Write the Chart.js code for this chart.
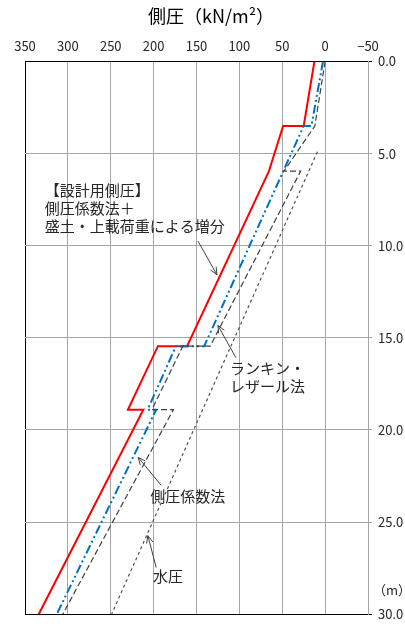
<!DOCTYPE html>
<html>
<head>
<meta charset="utf-8">
<script src="https://cdn.jsdelivr.net/npm/chart.js@4/dist/chart.umd.min.js"></script>
<style>
  html, body { margin: 0; padding: 0; background: #fff; }
  #c { display: block; }
</style>
</head>
<body>
<canvas id="c" width="405" height="628"></canvas>
<script>
// Lateral pressure (kN/m²) against depth (m) for each method
const designDepth     = [0, 3.5, 3.5, 5.95, 15.45, 15.45, 18.9, 18.9, 30];
const designPressure  = [12.5, 25, 49, 65.5, 161, 195, 230, 212, 334];

const rankineDepth    = [0, 3.5, 3.5, 15.45, 15.45, 18.9, 18.9, 30];
const rankinePressure = [2.5, 16, 25, 141, 174, 207, 197, 313];

const coefDepth       = [0, 3.5, 5.95, 5.95, 15.45, 15.45, 18.9, 18.9, 30];
const coefPressure    = [0, 12, 48, 28.5, 134, 166, 202, 177, 306];

const waterDepth      = [4.9, 30];
const waterPressure   = [9, 249];

// axis ticks
const pressureTicks = [350, 300, 250, 200, 150, 100, 50, 0, -50];
const depthTicks    = [0, 5, 10, 15, 20, 25, 30];

const FONT = '"Noto Sans CJK JP", "Noto Sans", sans-serif';
const TEXT = '#262626';
const GRID = '#a6a6a6';

function toPoints(depths, values) {
  return depths.map((d, i) => ({ x: values[i], y: d }));
}

// callout texts and leader arrows, placed in (pressure, depth) units
const callouts = [
  { lines: ['【設計用側圧】', '側圧係数法＋', '盛土・上載荷重による増分'], x: 327, y: 6.98, step: 0.99,
    arrow: [148.3, 9.75, 126.2, 11.57] },
  { lines: ['ランキン・', 'レザール法'], x: 111, y: 16.65, step: 0.99,
    arrow: [104, 16.08, 125, 14.33] },
  { lines: ['側圧係数法'], x: 204, y: 23.58, step: 1,
    arrow: [191.3, 23.0, 218, 21.49] },
  { lines: ['水圧'], x: 200.6, y: 27.95, step: 1,
    arrow: [197, 27.47, 206.7, 25.74] }
];

const annotate = {
  id: 'annotate',
  afterDraw(chart) {
    const { ctx, scales: { x, y }, chartArea: a } = chart;
    ctx.save();
    // title
    ctx.fillStyle = '#000';
    ctx.font = '18px ' + FONT;
    ctx.textAlign = 'center';
    ctx.textBaseline = 'middle';
    ctx.fillText('側圧（kN/m²）', 211, 16);

    // depth unit
    ctx.fillStyle = TEXT;
    ctx.font = '13px ' + FONT;
    ctx.textAlign = 'left';
    ctx.fillText('（m）', a.right + 5, y.getPixelForValue(28.7));

    // callouts
    ctx.font = '15px ' + FONT;
    ctx.textBaseline = 'middle';
    callouts.forEach(c => {
      ctx.fillStyle = TEXT;
      c.lines.forEach((t, i) => {
        ctx.fillText(t, x.getPixelForValue(c.x), y.getPixelForValue(c.y + i * c.step));
      });
      const x0 = x.getPixelForValue(c.arrow[0]), y0 = y.getPixelForValue(c.arrow[1]);
      const x1 = x.getPixelForValue(c.arrow[2]), y1 = y.getPixelForValue(c.arrow[3]);
      ctx.strokeStyle = '#404040';
      ctx.lineWidth = 1;
      ctx.beginPath();
      ctx.moveTo(x0, y0);
      ctx.lineTo(x1, y1);
      const ang = Math.atan2(y1 - y0, x1 - x0);
      const len = 8, spread = 0.42;
      ctx.moveTo(x1 - len * Math.cos(ang - spread), y1 - len * Math.sin(ang - spread));
      ctx.lineTo(x1, y1);
      ctx.lineTo(x1 - len * Math.cos(ang + spread), y1 - len * Math.sin(ang + spread));
      ctx.stroke();
    });
    ctx.restore();
  }
};

new Chart(document.getElementById('c'), {
  type: 'scatter',
  data: {
    datasets: [
      { label: '水圧', data: toPoints(waterDepth, waterPressure),
        borderColor: '#505050', borderWidth: 1.2, borderDash: [3, 3] },
      { label: '側圧係数法', data: toPoints(coefDepth, coefPressure),
        borderColor: '#404040', borderWidth: 1.2, borderDash: [6, 3] },
      { label: 'ランキン・レザール法', data: toPoints(rankineDepth, rankinePressure),
        borderColor: '#0070c0', borderWidth: 2, borderDash: [9, 3, 2, 3, 2, 3] },
      { label: '設計用側圧', data: toPoints(designDepth, designPressure),
        borderColor: '#ff0000', borderWidth: 2 }
    ].map(d => Object.assign(d, { showLine: true, pointRadius: 0, fill: false, tension: 0 }))
  },
  options: {
    responsive: false,
    animation: false,
    devicePixelRatio: 1,
    layout: { padding: { left: 25, top: 30, right: 0, bottom: 8 } },
    plugins: { legend: { display: false }, tooltip: { enabled: false } },
    scales: {
      x: {
        type: 'linear', position: 'top', reverse: true,
        min: -50, max: 350,
        afterFit: s => { s.height = 31.5; },
        afterBuildTicks: s => { s.ticks = pressureTicks.map(v => ({ value: v })); },
        ticks: {
          padding: 8, color: TEXT, font: { family: FONT, size: 13 },
          callback: v => (v < 0 ? '−' + Math.abs(v) : String(v))
        },
        grid: {
          drawTicks: false,
          color: c => (c.tick && c.tick.value === 350 ? '#000' : GRID)
        },
        border: { color: '#000', width: 1 }
      },
      y: {
        type: 'linear', position: 'right', reverse: true,
        min: 0, max: 30,
        afterFit: s => { s.width = 37; },
        afterBuildTicks: s => { s.ticks = depthTicks.map(v => ({ value: v })); },
        ticks: {
          padding: 6, color: TEXT, font: { family: FONT, size: 13 },
          callback: v => Number(v).toFixed(1)
        },
        grid: {
          tickLength: 4,
          color: c => (c.tick && (c.tick.value === 30 || c.tick.value === 0) ? '#000' : GRID)
        },
        border: { color: GRID, width: 1 }
      }
    }
  },
  plugins: [annotate]
});
</script>
</body>
</html>
